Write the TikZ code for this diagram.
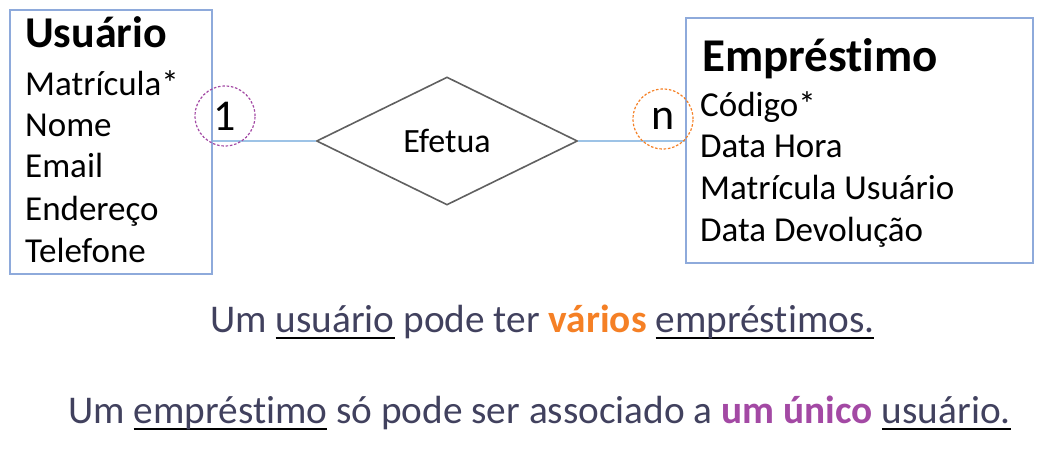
\documentclass[tikz,border=0pt]{standalone}
\usepackage{fontspec}
\setmainfont{Carlito}[Ligatures=CommonOff]
\usetikzlibrary{shapes.geometric}

\definecolor{boxblue}{HTML}{8EAADB}
\definecolor{linkblue}{HTML}{9DC3E6}
\definecolor{relgray}{HTML}{606060}
\definecolor{txtgray}{HTML}{41415E}
\definecolor{manyorange}{HTML}{F58025}
\definecolor{onepurple}{HTML}{A349A4}

\newcommand{\uword}[1]{\setbox0\hbox{#1}\rlap{\color{black}\rule[-7pt]{\wd0}{2pt}}\box0\relax}

\tikzset{
	entbox/.style = {draw=boxblue, line width=2pt, inner sep=0pt},
	enttitle/.style = {anchor=base west, inner sep=0pt, font=\bfseries},
	attr/.style = {anchor=base west, inner sep=0pt, font=\fontsize{35}{39}\selectfont},
	card/.style = {circle, dash pattern=on 2.5pt off 1.8pt, line width=1.2pt, minimum size=60pt, inner sep=0pt, font=\fontsize{44}{48}\selectfont},
	link/.style = {draw=linkblue, line width=2pt},
	phrase/.style = {anchor=base west, inner sep=0pt, text=txtgray, font=\fontsize{39.3}{43}\selectfont}
}

\begin{document}
\begin{tikzpicture}[x=1pt, y=-1pt]
	
	\useasboundingbox (0,0) rectangle (1043,449);
	
	\node[entbox, minimum width=202pt, minimum height=264pt] (usuario) at (111,142) {};
	\node[enttitle, font=\bfseries\fontsize{44}{48}\selectfont] (usuariot) at (25,48) {Usuário};
	\node[attr] (matricula) at (25,96) {Matrícula*};
	\node[attr] (nome) at (25,137) {Nome};
	\node[attr] (email) at (25,178) {Email};
	\node[attr] (endereco) at (25,220) {Endereço};
	\node[attr] (telefone) at (25,262) {Telefone};
	
	\node[entbox, minimum width=347pt, minimum height=245pt] (emprestimo) at (859.5,140.5) {};
	\node[enttitle, font=\bfseries\fontsize{47}{51}\selectfont] (emprestimot) at (702,72) {Empréstimo};
	\node[attr] (codigo) at (700,117) {Código*};
	\node[attr] (datahora) at (700,158) {Data Hora};
	\node[attr] (matusuario) at (700,200) {Matrícula Usuário};
	\node[attr] (devolucao) at (700,241) {Data Devolução};
	
	\node[diamond, draw=relgray, line width=1.6pt, minimum width=261pt, minimum height=128pt, inner sep=0pt, font=\fontsize{34}{38}\selectfont] (efetua) at (447,141) {Efetua};
	
	\draw[link] (usuario.east |- efetua.west) -- (efetua.west);
	\draw[link] (efetua.east) -- (emprestimo.west |- efetua.east);
	
	\node[card, draw=onepurple] (um) at (225,116) {1};
	\node[card, draw=manyorange] (muitos) at (663,119) {n};
	
	\node[phrase] (frase1) at (210,332) {Um \uword{usuário} pode ter \textcolor{manyorange}{\bfseries vários} \uword{empréstimos.}};
	\node[phrase] (frase2) at (68,423) {Um \uword{empréstimo} só pode ser associado a \textcolor{onepurple}{\bfseries um único} \uword{usuário.}};
	
\end{tikzpicture}
\end{document}
